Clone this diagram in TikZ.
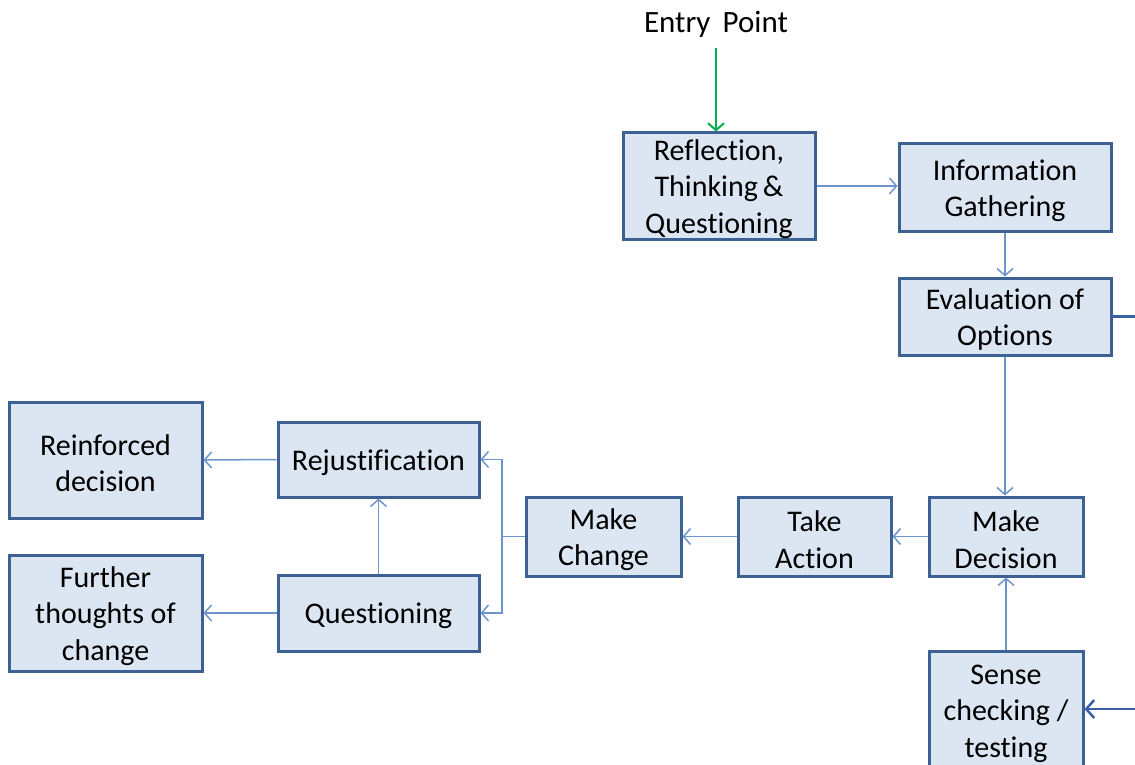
\documentclass[tikz,border=0pt]{standalone}
\usepackage{fontspec}
\setmainfont[Ligatures={NoCommon}]{Carlito}
\usetikzlibrary{arrows.meta}
\definecolor{boxfill}{HTML}{DCE6F2}
\definecolor{boxline}{HTML}{3C6192}
\definecolor{linkblue}{HTML}{6E95CB}
\definecolor{darkblue}{HTML}{3A62A3}
\definecolor{entrygreen}{HTML}{00B050}
% tall strut on the first line so the text sits a little lower in its box
\newcommand\boxstrut{\rule{0pt}{27pt}}
\begin{document}
\begin{tikzpicture}[x=1pt,y=-1pt,
  stepbox/.style={draw=boxline,fill=boxfill,line width=3pt,inner sep=0pt,
    align=center,font=\fontsize{30}{36.5}\selectfont},
  link/.style={draw=linkblue,line width=1.5pt,-{Straight Barb[length=7pt,width=16pt]}},
  plainlink/.style={draw=linkblue,line width=1.5pt},
  outlink/.style={draw=darkblue,line width=2.5pt}]
\useasboundingbox (0,0) rectangle (1135,765);
\clip (0,0) rectangle (1135,765);

% process boxes
\node[stepbox,minimum width=192pt,minimum height=106pt] (reflect) at (719,186)
  {\boxstrut Reflection,\\Thinking\,\&\\Questioning};
\node[stepbox,minimum width=212pt,minimum height=87pt] (info) at (1005,187.5)
  {\boxstrut Information\\Gathering};
\node[stepbox,minimum width=212pt,minimum height=77pt] (eval) at (1005,316.5)
  {\boxstrut Evaluation of\\Options};
\node[stepbox,minimum width=154pt,minimum height=79pt] (decide) at (1006,536.5)
  {\boxstrut Make\\Decision};
\node[stepbox,minimum width=153pt,minimum height=79pt] (action) at (814.5,536.5)
  {\boxstrut Take\\Action};
\node[stepbox,minimum width=155pt,minimum height=79pt] (change) at (603.5,536.5)
  {\boxstrut Make\\Change};
\node[stepbox,minimum width=201pt,minimum height=75pt] (rejust) at (378.5,459.5)
  {\boxstrut Rejustification};
\node[stepbox,minimum width=201pt,minimum height=76pt] (quest) at (378.5,613)
  {\boxstrut Questioning};
\node[stepbox,minimum width=193pt,minimum height=116pt] (reinf) at (105.5,460)
  {\boxstrut Reinforced\\decision};
\node[stepbox,minimum width=193pt,minimum height=116pt] (further) at (105.5,613)
  {\boxstrut Further\\thoughts of\\change};
\node[stepbox,minimum width=154pt,minimum height=118pt] (sense) at (1006,710)
  {\boxstrut Sense\\checking /\\testing};

% entry
\node[font=\fontsize{31}{36}\selectfont] (entry) at (716,24) {Entry\, Point};
\coordinate (entrytop) at (716,48);
\draw[draw=entrygreen,line width=2pt,-{Straight Barb[length=7pt,width=16pt]}]
  (entrytop) -- (reflect.north -| entrytop);

% main flow
\draw[link] (reflect.east) -- (info.west |- reflect.east);
\draw[link] (info.south) -- (eval.north);
\draw[link] (eval.south) -- (decide.north -| eval.south);
\draw[link] (decide.west) -- (action.east);
\draw[link] (action.west) -- (change.east);
\draw[link] (sense.north) -- (decide.south);

% branch from Make Change
\coordinate (fork) at (502,536.5);
\draw[plainlink] (change.west) -- (fork);
\draw[link] (fork) |- (rejust.east);
\draw[link] (fork) |- (quest.east);
\draw[link] (quest.north) -- (rejust.south);
\draw[link] (rejust.west) -- (reinf.east);
\draw[link] (quest.west) -- (further.east);

% lines leaving the frame on the right
\coordinate (evalout) at (1140,316.5);
\coordinate (sensein) at (1140,709);
\draw[outlink] (eval.east) -- (evalout);
\draw[outlink,-{Straight Barb[length=8pt,width=18pt]}] (sensein) -- (sense.east |- sensein);
\end{tikzpicture}
\end{document}
